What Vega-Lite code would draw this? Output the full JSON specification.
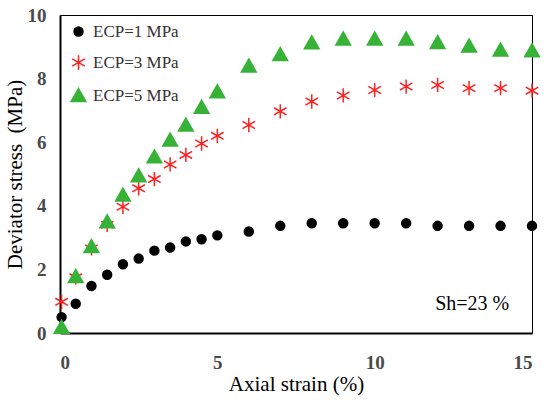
{
  "$schema": "https://vega.github.io/schema/vega-lite/v6.json",
  "width": 472,
  "height": 318,
  "autosize": "none",
  "padding": {"left": 60, "top": 15, "right": 18, "bottom": 71},
  "background": "white",
  "datasets": {
    "tests": [
      {"strain": 0.05, "stress": 0.5, "ECP": "ECP=1 MPa"},
      {"strain": 0.5, "stress": 0.92, "ECP": "ECP=1 MPa"},
      {"strain": 1, "stress": 1.48, "ECP": "ECP=1 MPa"},
      {"strain": 1.5, "stress": 1.83, "ECP": "ECP=1 MPa"},
      {"strain": 2, "stress": 2.16, "ECP": "ECP=1 MPa"},
      {"strain": 2.5, "stress": 2.34, "ECP": "ECP=1 MPa"},
      {"strain": 3, "stress": 2.59, "ECP": "ECP=1 MPa"},
      {"strain": 3.5, "stress": 2.69, "ECP": "ECP=1 MPa"},
      {"strain": 4, "stress": 2.88, "ECP": "ECP=1 MPa"},
      {"strain": 4.5, "stress": 2.95, "ECP": "ECP=1 MPa"},
      {"strain": 5, "stress": 3.07, "ECP": "ECP=1 MPa"},
      {"strain": 6, "stress": 3.19, "ECP": "ECP=1 MPa"},
      {"strain": 7, "stress": 3.37, "ECP": "ECP=1 MPa"},
      {"strain": 8, "stress": 3.45, "ECP": "ECP=1 MPa"},
      {"strain": 9, "stress": 3.45, "ECP": "ECP=1 MPa"},
      {"strain": 10, "stress": 3.45, "ECP": "ECP=1 MPa"},
      {"strain": 11, "stress": 3.45, "ECP": "ECP=1 MPa"},
      {"strain": 12, "stress": 3.37, "ECP": "ECP=1 MPa"},
      {"strain": 13, "stress": 3.37, "ECP": "ECP=1 MPa"},
      {"strain": 14, "stress": 3.37, "ECP": "ECP=1 MPa"},
      {"strain": 15, "stress": 3.37, "ECP": "ECP=1 MPa"},
      {"strain": 0.05, "stress": 0.98, "ECP": "ECP=3 MPa"},
      {"strain": 0.5, "stress": 1.75, "ECP": "ECP=3 MPa"},
      {"strain": 1, "stress": 2.66, "ECP": "ECP=3 MPa"},
      {"strain": 1.5, "stress": 3.4, "ECP": "ECP=3 MPa"},
      {"strain": 2, "stress": 3.97, "ECP": "ECP=3 MPa"},
      {"strain": 2.5, "stress": 4.55, "ECP": "ECP=3 MPa"},
      {"strain": 3, "stress": 4.84, "ECP": "ECP=3 MPa"},
      {"strain": 3.5, "stress": 5.3, "ECP": "ECP=3 MPa"},
      {"strain": 4, "stress": 5.6, "ECP": "ECP=3 MPa"},
      {"strain": 4.5, "stress": 5.96, "ECP": "ECP=3 MPa"},
      {"strain": 5, "stress": 6.2, "ECP": "ECP=3 MPa"},
      {"strain": 6, "stress": 6.54, "ECP": "ECP=3 MPa"},
      {"strain": 7, "stress": 6.97, "ECP": "ECP=3 MPa"},
      {"strain": 8, "stress": 7.28, "ECP": "ECP=3 MPa"},
      {"strain": 9, "stress": 7.47, "ECP": "ECP=3 MPa"},
      {"strain": 10, "stress": 7.64, "ECP": "ECP=3 MPa"},
      {"strain": 11, "stress": 7.75, "ECP": "ECP=3 MPa"},
      {"strain": 12, "stress": 7.8, "ECP": "ECP=3 MPa"},
      {"strain": 13, "stress": 7.7, "ECP": "ECP=3 MPa"},
      {"strain": 14, "stress": 7.7, "ECP": "ECP=3 MPa"},
      {"strain": 15, "stress": 7.62, "ECP": "ECP=3 MPa"},
      {"strain": 0.05, "stress": 0.18, "ECP": "ECP=5 MPa"},
      {"strain": 0.5, "stress": 1.78, "ECP": "ECP=5 MPa"},
      {"strain": 1, "stress": 2.72, "ECP": "ECP=5 MPa"},
      {"strain": 1.5, "stress": 3.5, "ECP": "ECP=5 MPa"},
      {"strain": 2, "stress": 4.34, "ECP": "ECP=5 MPa"},
      {"strain": 2.5, "stress": 4.95, "ECP": "ECP=5 MPa"},
      {"strain": 3, "stress": 5.54, "ECP": "ECP=5 MPa"},
      {"strain": 3.5, "stress": 6.07, "ECP": "ECP=5 MPa"},
      {"strain": 4, "stress": 6.54, "ECP": "ECP=5 MPa"},
      {"strain": 4.5, "stress": 7.1, "ECP": "ECP=5 MPa"},
      {"strain": 5, "stress": 7.59, "ECP": "ECP=5 MPa"},
      {"strain": 6, "stress": 8.4, "ECP": "ECP=5 MPa"},
      {"strain": 7, "stress": 8.76, "ECP": "ECP=5 MPa"},
      {"strain": 8, "stress": 9.13, "ECP": "ECP=5 MPa"},
      {"strain": 9, "stress": 9.25, "ECP": "ECP=5 MPa"},
      {"strain": 10, "stress": 9.25, "ECP": "ECP=5 MPa"},
      {"strain": 11, "stress": 9.25, "ECP": "ECP=5 MPa"},
      {"strain": 12, "stress": 9.14, "ECP": "ECP=5 MPa"},
      {"strain": 13, "stress": 9.03, "ECP": "ECP=5 MPa"},
      {"strain": 14, "stress": 8.9, "ECP": "ECP=5 MPa"},
      {"strain": 15, "stress": 8.88, "ECP": "ECP=5 MPa"}
    ],
    "note": [
      {"strain": 13.1, "stress": 0.91, "label": "Sh=23 %"}
    ]
  },
  "layer": [
    {
      "data": {"name": "tests"},
      "mark": {"type": "point", "filled": true, "size": 80, "strokeWidth": 1.5, "opacity": 1},
      "encoding": {
        "x": {
          "field": "strain",
          "type": "quantitative",
          "title": "Axial strain (%)",
          "scale": {"domain": [0, 15], "nice": false, "zero": true},
          "axis": {"values": [0, 5, 10, 15], "labelPadding": 20, "titlePadding": 1}
        },
        "y": {
          "field": "stress",
          "type": "quantitative",
          "title": "Deviator stress \u00a0(MPa)",
          "scale": {"domain": [0, 10], "nice": false},
          "axis": {"values": [0, 2, 4, 6, 8, 10], "labelPadding": 14, "titlePadding": 2}
        },
        "fill": {
          "field": "ECP",
          "type": "nominal",
          "scale": {"domain": ["ECP=1 MPa", "ECP=3 MPa", "ECP=5 MPa"], "range": ["#000000", "transparent", "#36b336"]}
        },
        "stroke": {
          "field": "ECP",
          "type": "nominal",
          "scale": {"domain": ["ECP=1 MPa", "ECP=3 MPa", "ECP=5 MPa"], "range": ["#000000", "#ff1f1f", "#36b336"]}
        },
        "shape": {
          "field": "ECP",
          "type": "nominal",
          "scale": {"domain": ["ECP=1 MPa", "ECP=3 MPa", "ECP=5 MPa"], "range": ["circle", "M0,-1.6L0,1.6M-1.4,-0.8L1.4,0.8M-1.4,0.8L1.4,-0.8", "M0,-1.55L1.65,1.35L-1.65,1.35Z"]},
          "legend": {
            "title": null,
            "orient": "none",
            "legendX": 10,
            "legendY": 8,
            "padding": 0,
            "rowPadding": 12,
            "symbolSize": 80,
            "symbolStrokeWidth": 1.5,
            "labelFont": "Liberation Serif",
            "labelFontSize": 17,
            "labelColor": "#333333",
            "labelOffset": 6
          }
        }
      }
    },
    {
      "data": {"name": "note"},
      "mark": {"type": "text", "font": "Liberation Serif", "fontSize": 20, "color": "#000000", "align": "center", "baseline": "middle"},
      "encoding": {
        "x": {"field": "strain", "type": "quantitative"},
        "y": {"field": "stress", "type": "quantitative"},
        "text": {"field": "label"}
      }
    }
  ],
  "config": {
    "view": {"stroke": "#000000", "strokeWidth": 1},
    "axis": {
      "grid": false,
      "ticks": false,
      "domainColor": "#000000",
      "domainWidth": 2,
      "labelFont": "Liberation Serif",
      "labelFontSize": 19,
      "labelFontWeight": "bold",
      "labelColor": "#4a4a4a",
      "titleFont": "Liberation Serif",
      "titleFontSize": 21,
      "titleFontWeight": "normal",
      "titleColor": "#000000"
    }
  }
}
